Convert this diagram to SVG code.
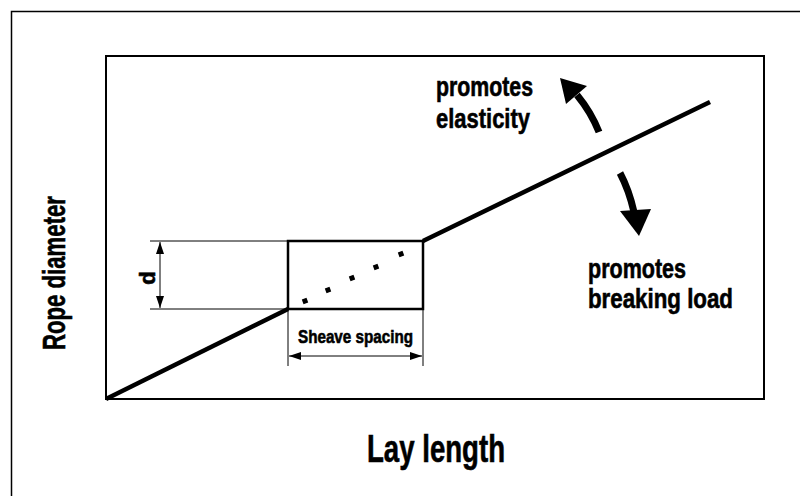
<svg xmlns="http://www.w3.org/2000/svg" width="800" height="496" viewBox="0 0 800 496">
<style>
  .lbl { font-family: "Liberation Sans Narrow", "Liberation Sans", "DejaVu Sans Condensed", sans-serif; font-weight: bold; fill: #000; stroke: #000; stroke-width: 0.6; }
  .thin { stroke: #000; stroke-width: 1; fill: none; }
  .thick { stroke: #000; stroke-width: 4.5; fill: none; stroke-linecap: butt; }
  .box { stroke: #000; stroke-width: 2.5; fill: none; }
  .curve { stroke: #000; stroke-width: 7; fill: none; }
</style>
<defs>
  <marker id="ah" viewBox="0 0 12 8" refX="12" refY="4" markerWidth="12" markerHeight="8" markerUnits="userSpaceOnUse" orient="auto-start-reverse">
    <path d="M0,0 L12,4 L0,8 Z" fill="#000"/>
  </marker>
</defs>
<rect width="800" height="496" fill="#fff"/>
<g id="frame">
  <path d="M11.5,497 V11.5 H801" fill="none" stroke="#000" stroke-width="1.5"/>
</g>
<g id="plot-area">
  <rect x="106" y="56" width="658" height="343" fill="none" stroke="#000" stroke-width="2"/>
</g>
<g id="axis-labels">
  <text class="lbl" x="0" y="0" font-size="32" text-anchor="middle" textLength="154" lengthAdjust="spacingAndGlyphs" transform="translate(65,273) rotate(-90)">Rope diameter</text>
  <text class="lbl" x="436" y="462" font-size="38" text-anchor="middle" textLength="138" lengthAdjust="spacingAndGlyphs">Lay length</text>
</g>
<g id="connectors">
  <path class="thick" d="M106,399 L288,309"/>
  <path class="thick" d="M423,241 L710,102"/>
  <g fill="#000">
    <rect x="302.5" y="298.5" width="5" height="5" transform="rotate(-20 305 301)"/>
    <rect x="325.5" y="287.5" width="5" height="5" transform="rotate(-20 328 290)"/>
    <rect x="349.5" y="275.5" width="5" height="5" transform="rotate(-20 352 278)"/>
    <rect x="373.5" y="264.5" width="5" height="5" transform="rotate(-20 376 267)"/>
    <rect x="398.5" y="251.5" width="5" height="5" transform="rotate(-20 401 254)"/>
  </g>
  <path class="thin" d="M150,241 H288 M150,309 H288"/>
  <path class="thin" d="M160,242 V308" marker-start="url(#ah)" marker-end="url(#ah)"/>
  <path class="thin" d="M288,309 V366 M423,309 V366"/>
  <path class="thin" d="M289,356 H422" marker-start="url(#ah)" marker-end="url(#ah)"/>
  <path class="curve" d="M599,132 Q591,112 577,95"/>
  <polygon points="560,78 587,86 566,104" fill="#000"/>
  <path class="curve" d="M620,173 Q629,190 634,212"/>
  <polygon points="620,211 651,209 639,236" fill="#000"/>
</g>
<g id="sheave-box">
  <rect class="box" x="288" y="241" width="135" height="68"/>
</g>
<g id="d-label">
  <text class="lbl" x="0" y="0" font-size="22" text-anchor="middle" transform="translate(155,278) rotate(-90)">d</text>
</g>
<g id="sheave-label">
  <text class="lbl" x="298" y="343" font-size="19" textLength="115" lengthAdjust="spacingAndGlyphs">Sheave spacing</text>
</g>
<g id="elasticity-label">
  <text class="lbl" x="436" y="96" font-size="28" textLength="97" lengthAdjust="spacingAndGlyphs">promotes</text>
  <text class="lbl" x="436" y="128" font-size="28" textLength="94" lengthAdjust="spacingAndGlyphs">elasticity</text>
</g>
<g id="breaking-label">
  <text class="lbl" x="588" y="278" font-size="28" textLength="98" lengthAdjust="spacingAndGlyphs">promotes</text>
  <text class="lbl" x="588" y="308" font-size="28" textLength="145" lengthAdjust="spacingAndGlyphs">breaking load</text>
</g>
</svg>
